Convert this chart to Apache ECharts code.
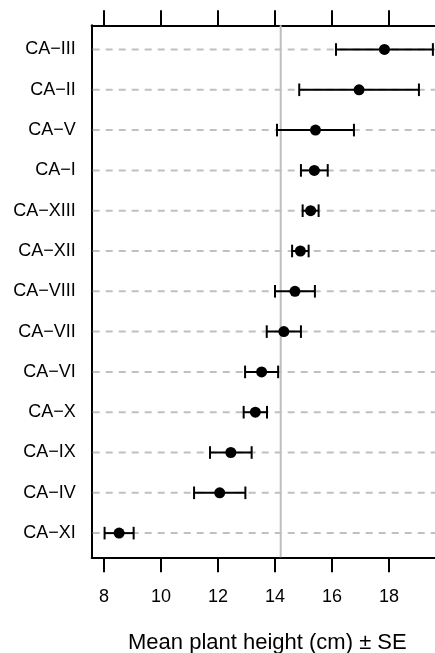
<!DOCTYPE html>
<html>
<head>
<meta charset="utf-8">
<script src="https://cdn.jsdelivr.net/npm/echarts@6/dist/echarts.min.js"></script>
<style>
html,body{margin:0;padding:0;background:#fff;}
#chart{width:435px;height:653px;}
</style>
</head>
<body>
<div id="chart"></div>
<script>
// Data (top to bottom)
const categories = ['CA\u2212III','CA\u2212II','CA\u2212V','CA\u2212I','CA\u2212XIII','CA\u2212XII','CA\u2212VIII','CA\u2212VII','CA\u2212VI','CA\u2212X','CA\u2212IX','CA\u2212IV','CA\u2212XI'];
const means = [17.84, 16.95, 15.42, 15.38, 15.25, 14.89, 14.70, 14.31, 13.53, 13.31, 12.45, 12.06, 8.53];
const ses   = [1.70, 2.10, 1.35, 0.47, 0.28, 0.29, 0.70, 0.60, 0.58, 0.41, 0.73, 0.90, 0.51];
const grandMean = 14.2;
const xTicks = [8, 10, 12, 14, 16, 18];
const xTitle = 'Mean plant height (cm) \u00B1 SE';

const font = "'Liberation Sans', Arial, Helvetica, sans-serif";
const chart = echarts.init(document.getElementById('chart'), null, {renderer: 'canvas'});

const yIdx = categories.map((c, i) => i);
const errData = means.map((m, i) => [m - ses[i], m + ses[i], i]);
const ptData = means.map((m, i) => [m, i]);
const guideData = yIdx.map(i => [i]);

const xMin = 7.568, xMax = 19.614;

chart.setOption({
  animation: false,
  backgroundColor: '#fff',
  grid: {left: 91.7, right: 0, top: 25.3, bottom: 95.7, containLabel: false, outerBoundsMode: 'none'},
  xAxis: [{
    type: 'value', position: 'bottom', min: xMin, max: xMax,
    axisLine: {show: true, onZero: false, lineStyle: {color: '#000', width: 2}},
    axisTick: {show: true, length: 15, lineStyle: {color: '#000', width: 2}, customValues: xTicks},
    axisLabel: {show: true, customValues: xTicks, margin: 31, fontSize: 18, color: '#000', fontFamily: font},
    splitLine: {show: false},
    name: xTitle, nameLocation: 'middle', nameGap: 75,
    nameTextStyle: {fontSize: 22, color: '#000', fontFamily: font, padding: [0, 0, 0, 8]}
  }, {
    type: 'value', position: 'top', min: xMin, max: xMax,
    axisLine: {show: true, onZero: false, lineStyle: {color: '#000', width: 2}},
    axisTick: {show: true, length: 15, lineStyle: {color: '#000', width: 2}, customValues: xTicks},
    axisLabel: {show: false},
    splitLine: {show: false}
  }],
  yAxis: {
    type: 'value', inverse: true, min: -0.6, max: 12.6,
    axisLine: {show: true, onZero: false, lineStyle: {color: '#000', width: 2}},
    axisTick: {show: false},
    axisLabel: {show: true, customValues: yIdx, formatter: v => categories[Math.round(v)],
      margin: 16, fontSize: 18, color: '#000', fontFamily: font},
    splitLine: {show: false}
  },
  series: [{
    // dashed horizontal guides at each category
    type: 'custom', z: 1, silent: true,
    data: guideData,
    renderItem: function (params, api) {
      const cs = params.coordSys;
      const p = api.coord([xMin, api.value(0)]);
      return {type: 'line', shape: {x1: cs.x + 1, y1: p[1], x2: cs.x + cs.width, y2: p[1]},
        style: {stroke: '#c0c0c0', lineWidth: 2, lineDash: [7, 6]}};
    }
  }, {
    // vertical reference line at grand mean
    type: 'custom', z: 2, silent: true,
    data: [[grandMean]],
    renderItem: function (params, api) {
      const cs = params.coordSys;
      const p = api.coord([api.value(0), 0]);
      return {type: 'line', shape: {x1: p[0], y1: cs.y, x2: p[0], y2: cs.y + cs.height},
        style: {stroke: '#bebebe', lineWidth: 2}};
    }
  }, {
    type: 'custom', z: 3,
    data: errData,
    renderItem: function (params, api) {
      const lo = api.coord([api.value(0), api.value(2)]);
      const hi = api.coord([api.value(1), api.value(2)]);
      const h = 6.3;
      const style = {stroke: '#000', lineWidth: 2};
      return {type: 'group', children: [
        {type: 'line', shape: {x1: lo[0], y1: lo[1], x2: hi[0], y2: hi[1]}, style: style},
        {type: 'line', shape: {x1: lo[0], y1: lo[1] - h, x2: lo[0], y2: lo[1] + h}, style: style},
        {type: 'line', shape: {x1: hi[0], y1: hi[1] - h, x2: hi[0], y2: hi[1] + h}, style: style}
      ]};
    }
  }, {
    type: 'scatter', z: 4, symbol: 'circle', symbolSize: 11,
    itemStyle: {color: '#000', opacity: 1},
    data: ptData
  }]
});
</script>
</body>
</html>
